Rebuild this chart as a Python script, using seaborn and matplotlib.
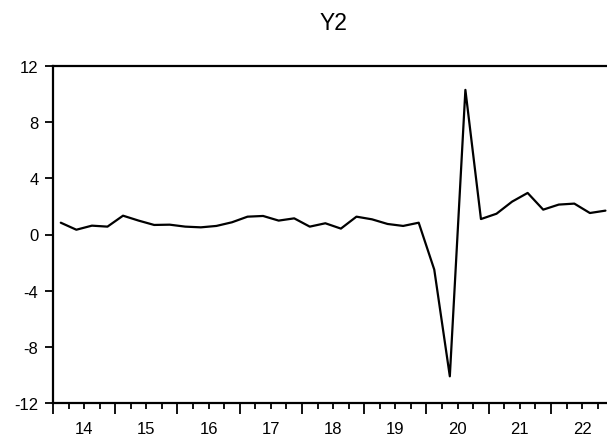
import numpy as np
import pandas as pd
import matplotlib
matplotlib.use("Agg")
import matplotlib.pyplot as plt
import seaborn as sns

# quarterly observations 2014Q1 - 2022Q4
years = list(range(2014, 2023))
quarters = [1, 2, 3, 4]
y2 = [0.84, 0.34, 0.63, 0.56, 1.34, 0.99, 0.68, 0.70,
      0.56, 0.51, 0.61, 0.87, 1.27, 1.32, 0.99, 1.15,
      0.56, 0.80, 0.42, 1.27, 1.08, 0.75, 0.61, 0.84,
      -2.50, -10.1, 10.3, 1.10, 1.48, 2.34, 2.96, 1.77,
      2.13, 2.20, 1.53, 1.70]
year_labels = ["14", "15", "16", "17", "18", "19", "20", "21", "22"]
y_ticks = [-12, -8, -4, 0, 4, 8, 12]

periods = [(y, q) for y in years for q in quarters]
df = pd.DataFrame({
    "t": [y + (q - 1) / 4 + 0.125 for y, q in periods],
    "Y2": y2,
})

sns.set_style("white")
plt.rcParams["font.family"] = ["Liberation Sans", "DejaVu Sans"]
plt.rcParams["text.color"] = "black"
plt.rcParams["xtick.color"] = "black"
plt.rcParams["ytick.color"] = "black"

fig = plt.figure(figsize=(6.07, 4.39), dpi=100)
ax = fig.add_axes([53 / 607, 1 - 404 / 439, 1 - 53 / 607, (404 - 67) / 439])

sns.lineplot(data=df, x="t", y="Y2", color="black", linewidth=1.6, ax=ax)

ax.set_xlim(2014, 2022.9)
ax.set_ylim(-12, 12)
ax.set_yticks(y_ticks)
ax.set_yticklabels([str(v) for v in y_ticks])

ax.set_xticks(years)
ax.set_xticklabels([])
ax.set_xticks([y + q / 4 for y in years for q in (1, 2, 3)], minor=True)
# year labels sit in the middle of each year
for yr, lab in zip(years, year_labels):
    ax.text(yr + 0.5, -0.075, lab, transform=ax.get_xaxis_transform(),
            ha="center", va="center", fontsize=12, color="black")

ax.tick_params(axis="x", which="major", direction="out", length=8, width=1.3,
               color="black", bottom=True)
ax.tick_params(axis="x", which="minor", direction="out", length=4.5, width=1.3,
               color="black", bottom=True)
ax.tick_params(axis="y", direction="out", length=6, width=1.3, color="black",
               labelcolor="black", left=True, labelsize=12, pad=4.5)

for side in ["left", "bottom", "top"]:
    ax.spines[side].set_color("black")
    ax.spines[side].set_linewidth(1.6)
ax.spines["right"].set_visible(False)

ax.set_xlabel("")
ax.set_ylabel("")
fig.text(333 / 607, 1 - 24 / 439, "Y2", ha="center", va="center",
         fontsize=16.5, color="black")

fig.savefig("out.png", dpi=100)
